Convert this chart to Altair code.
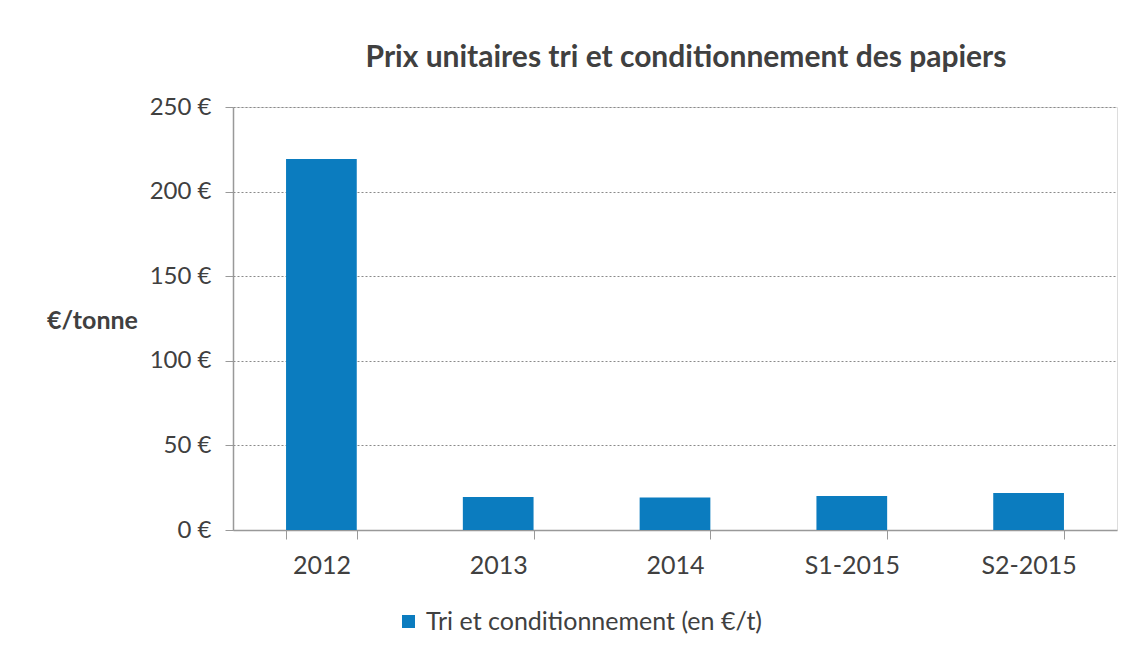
import altair as alt
import pandas as pd

categories = ["2012", "2013", "2014", "S1-2015", "S2-2015"]
values = [219.3, 19.5, 19.2, 20.1, 21.9]
series = "Tri et conditionnement (en €/t)"

df = pd.DataFrame({"periode": categories, "prix": values, "serie": [series] * len(categories)})

FONT = "Lato"
TXT = "#404040"

bars = alt.Chart(df).mark_bar(color="#0b7cbf").encode(
    x=alt.X("periode:N", sort=categories,
            scale=alt.Scale(paddingInner=0.6, paddingOuter=0.3),
            axis=alt.Axis(title=None, labelAngle=0, labelFontSize=25, labelColor=TXT,
                          labelFont=FONT, labelPadding=14, tickBand="extent", tickSize=9,
                          tickColor="#999999", domainColor="#999999", domainWidth=1.5,
                          grid=False)),
    y=alt.Y("prix:Q", scale=alt.Scale(domain=[0, 250]),
            axis=alt.Axis(values=[0, 50, 100, 150, 200, 250], labelExpr="datum.value + ' €'",
                          title="€/tonne", titleAngle=0, titleAlign="center",
                          titleBaseline="middle", titleX=-141, titleY=213,
                          titleFont=FONT, titleFontSize=25, titleFontWeight="bold",
                          titleColor=TXT, labelFontSize=24, labelColor=TXT, labelFont=FONT,
                          labelPadding=14, tickSize=8, tickColor="#999999",
                          domainColor="#999999", domainWidth=1.5,
                          grid=True, gridColor="#8a8a8a", gridDash=[2, 2], gridWidth=1)),
    color=alt.Color("serie:N", scale=alt.Scale(range=["#0b7cbf"]),
                    legend=alt.Legend(title=None, orient="none", legendX=163, legendY=502,
                                      symbolType="square", symbolSize=170, labelLimit=0,
                                      labelOffset=5,
                                      labelFontSize=25, labelColor=TXT, labelFont=FONT,
                                      symbolStrokeWidth=0)),
)

chart = bars.properties(
    width=884, height=423,
    title=alt.TitleParams("Prix unitaires tri et conditionnement des papiers",
                          font=FONT, fontSize=30, fontWeight="bold", color=TXT,
                          anchor="middle", offset=22, dx=11),
    autosize=alt.AutoSizeParams(type="none"),
    padding={"left": 225, "top": 99, "right": 7, "bottom": 118},
).configure_view(stroke=None).configure(background="white")

chart.save("out.html", embed_options={"renderer": "svg", "actions": False})
